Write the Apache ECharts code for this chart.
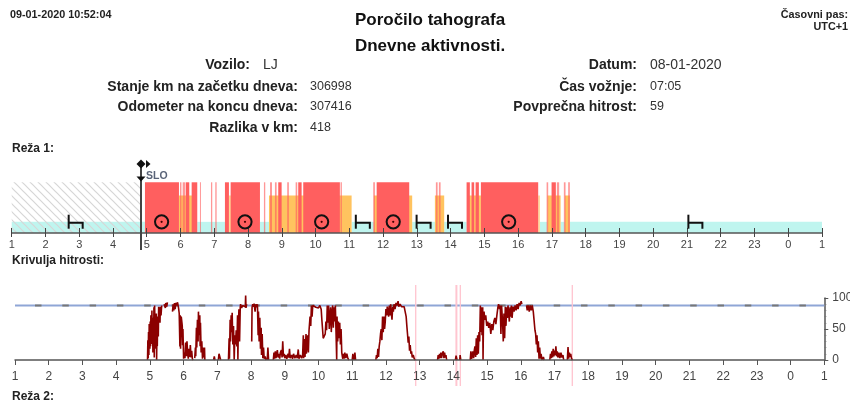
<!DOCTYPE html>
<html><head><meta charset="utf-8">
<style>html,body{margin:0;padding:0;background:#fff}#c{width:850px;height:403px}</style>
<script src="https://cdn.jsdelivr.net/npm/echarts@6/dist/echarts.min.js"></script>
</head><body><div id="c"></div>
<script>
// ---------- data (hours on a 1..25 axis; 25 = 01:00 next day) ----------
const hourLabels = ["1","2","3","4","5","6","7","8","9","10","11","12","13","14","15","16","17","18","19","20","21","22","23","0","1"];
const restSpans = [[1,4.947],[6.496,7.316],[8.353,8.62],[11.068,11.728],[12.862,13.534],[13.81,14.473],[16.645,16.868],[17.257,17.384],[17.532,25]];
const workSpans = [[5.954,6.34],[7.434,7.495],[8.62,11.068],[11.728,12.862],[13.534,13.81],[14.51,14.897],[16.594,16.645],[16.868,17.257],[17.384,17.532]];
const driveSpans = [[4.947,5.954],[5.984,6.028],[6.064,6.132],[6.153,6.259],[6.33,6.496],[6.576,6.605],[6.902,6.94],[7.03,7.07],[7.316,7.434],[7.485,8.353],[8.471,8.51],[8.65,8.71],[8.797,8.847],[8.895,8.995],[9.16,9.21],[9.41,9.457],[9.487,9.587],[9.635,10.72],[10.74,10.78],[11.708,11.758],[11.81,12.774],[13.564,13.615],[13.653,13.703],[14.473,14.57],[14.62,14.698],[14.74,14.837],[14.897,16.594],[16.843,16.89],[16.99,17.117],[17.147,17.215],[17.354,17.404],[17.482,17.532]];
const unknownSpan = [[1,4.83]];
const levels = {rest:11, work:37, drive:50, unknown:50};
const wheelHours = [5.44,7.91,10.18,12.3,15.72];
const bedHours = [2.895,11.4,13.2,14.13,21.25];
const borderHour = 4.83;
const borderLabel = "SLO";
const speedLimit = 88;
const pinkHours = [12.883,14.08,14.1,14.206,17.527];
const speedSegments = [
 [[4.93,0],[4.94,32],[4.95,3],[4.96,45],[4.97,8],[4.98,58],[5.0,18],[5.01,62],[5.02,22],[5.03,72],[5.05,26],[5.06,80],[5.07,35],[5.08,55],[5.09,12],[5.1,68],[5.11,28],[5.12,85],[5.13,4],[5.14,88],[5.16,35],[5.17,62],[5.18,18],[5.19,75],[5.2,0],[5.21,48],[5.22,22],[5.23,70],[5.25,38],[5.26,86],[5.27,62],[5.28,78],[5.3,60],[5.31,86],[5.33,72],[5.35,88]],
 [[5.42,90],[5.44,93],[5.46,84],[5.47,92],[5.5,86],[5.52,93]],
 [[5.67,78],[5.69,90],[5.71,80],[5.73,92],[5.75,82],[5.77,92],[5.79,88],[5.82,93],[5.85,84],[5.87,75],[5.88,72],[5.89,22],[5.9,72],[5.91,18],[5.93,70],[5.94,65],[5.96,55],[5.97,24],[5.98,50],[6.0,2],[6.02,12],[6.04,3],[6.06,28],[6.08,6],[6.1,30],[6.12,10],[6.14,2],[6.16,18],[6.18,5],[6.2,24],[6.22,4],[6.24,15],[6.26,2],[6.28,0]],
 [[6.33,3],[6.35,20],[6.36,6],[6.38,52],[6.39,20],[6.41,65],[6.43,30],[6.44,78],[6.46,40],[6.48,72],[6.49,22],[6.5,60],[6.52,12],[6.54,30],[6.56,2],[6.58,20],[6.6,4],[6.62,20],[6.63,0]],
 [[6.89,0],[6.91,6],[6.93,0]],
 [[7.03,0],[7.05,10],[7.08,10],[7.1,0]],
 [[7.33,0],[7.35,35],[7.36,2],[7.38,65],[7.39,30],[7.41,72],[7.43,45],[7.44,76],[7.46,25],[7.48,55],[7.5,0],[7.52,40],[7.54,25],[7.56,48],[7.58,22],[7.6,72],[7.61,0],[7.62,42],[7.64,82],[7.66,30],[7.68,85],[7.69,90],[7.72,84],[7.75,88],[7.78,85],[7.8,90],[7.83,86],[7.84,104],[7.85,84],[7.87,90]],
 [[8.02,30],[8.03,85],[8.05,90],[8.07,86],[8.09,91],[8.12,78],[8.14,90],[8.17,85],[8.19,90],[8.21,40],[8.22,78],[8.24,30],[8.26,68],[8.28,18],[8.3,52],[8.31,8],[8.33,42],[8.35,3],[8.37,20],[8.39,2],[8.42,6],[8.44,0]],
 [[8.48,0],[8.5,20],[8.52,0]],
 [[8.66,0],[8.68,12],[8.7,2],[8.72,14],[8.74,3],[8.76,10],[8.78,16],[8.8,4],[8.83,10],[8.85,2],[8.87,12],[8.9,16],[8.92,4],[8.94,30],[8.96,6],[8.98,10],[9.0,3],[9.03,8],[9.06,2],[9.1,10],[9.12,4],[9.14,18],[9.16,3],[9.2,8],[9.23,2],[9.26,10],[9.3,3],[9.34,8],[9.37,3],[9.4,17],[9.42,2],[9.46,8],[9.5,3],[9.53,8],[9.55,40],[9.56,3],[9.58,34],[9.6,5],[9.63,42],[9.64,10],[9.66,24],[9.68,40],[9.7,12],[9.72,48],[9.75,70],[9.77,55],[9.79,88],[9.81,70],[9.83,88],[9.86,85],[9.88,91],[9.92,85],[9.96,88],[10.0,84],[10.04,88],[10.08,82],[10.1,65],[10.12,50],[10.14,35],[10.17,35],[10.2,42],[10.22,62],[10.24,48],[10.26,88],[10.28,60],[10.3,88],[10.32,50],[10.34,70],[10.36,85],[10.38,45],[10.4,75],[10.42,88],[10.44,52],[10.46,85],[10.48,62],[10.5,88],[10.52,45],[10.54,0],[10.55,70],[10.57,30],[10.59,62],[10.61,35],[10.63,60],[10.65,25],[10.67,50],[10.69,12],[10.72,2],[10.74,10],[10.76,2],[10.78,12],[10.81,3],[10.84,10],[10.87,3],[10.9,0]],
 [[11.0,0],[11.02,10],[11.04,0]],
 [[11.06,0],[11.08,12],[11.1,0]],
 [[11.7,0],[11.72,8],[11.74,3],[11.76,18],[11.78,5],[11.8,22],[11.82,30],[11.84,42],[11.86,50],[11.88,32],[11.9,70],[11.92,45],[11.94,70],[11.96,50],[11.98,62],[12.0,82],[12.02,72],[12.04,86],[12.06,78],[12.08,70],[12.1,88],[12.12,72],[12.14,90],[12.16,75],[12.18,65],[12.2,86],[12.22,78],[12.24,90],[12.27,82],[12.3,92],[12.33,88],[12.36,95],[12.38,86],[12.42,90],[12.46,86],[12.5,88],[12.54,86],[12.58,84],[12.6,70],[12.62,55],[12.64,42],[12.66,28],[12.68,38],[12.7,15],[12.72,24],[12.74,10],[12.76,14],[12.78,4],[12.81,8],[12.84,2],[12.87,0]],
 [[13.53,0],[13.55,8],[13.57,2],[13.59,10],[13.61,3],[13.63,12],[13.65,3],[13.67,10],[13.7,14],[13.72,3],[13.74,12],[13.76,4],[13.78,8],[13.8,0]],
 [[14.06,0],[14.08,7],[14.11,0]],
 [[14.19,0],[14.2,8],[14.22,0]],
 [[14.5,0],[14.52,14],[14.54,2],[14.56,8],[14.58,14],[14.6,3],[14.62,15],[14.64,22],[14.66,5],[14.68,35],[14.7,8],[14.72,40],[14.74,10],[14.76,45],[14.78,30],[14.8,88],[14.81,45],[14.83,85],[14.85,40],[14.87,85],[14.88,0],[14.89,50],[14.91,78],[14.93,65],[14.96,72],[14.99,55],[15.02,62],[15.05,52],[15.08,60],[15.11,42],[15.14,58],[15.17,48],[15.2,62],[15.23,68],[15.26,58],[15.29,72],[15.32,85],[15.34,90],[15.37,82],[15.39,88],[15.41,42],[15.43,88],[15.46,60],[15.48,30],[15.5,75],[15.52,35],[15.54,86],[15.56,55],[15.58,85],[15.6,68],[15.62,88],[15.64,75],[15.66,62],[15.68,85],[15.7,70],[15.72,88],[15.74,68],[15.77,86],[15.8,78],[15.83,88],[15.86,80],[15.89,90],[15.92,82],[15.95,92],[15.98,88],[16.01,95],[16.03,90]],
 [[16.17,88],[16.19,80],[16.22,88],[16.25,78],[16.28,88],[16.31,80],[16.34,88],[16.37,78],[16.4,75],[16.42,48],[16.44,42],[16.46,25],[16.48,40],[16.5,12],[16.52,30],[16.54,2],[16.56,20],[16.58,2],[16.6,10],[16.63,0]],
 [[16.65,0],[16.67,5],[16.69,0]],
 [[16.86,0],[16.88,10],[16.9,3],[16.92,14],[16.94,4],[16.96,18],[16.98,6],[17.0,15],[17.02,8],[17.04,22],[17.06,6],[17.08,14],[17.1,4],[17.13,12],[17.16,3],[17.19,12],[17.22,4],[17.25,8],[17.27,0]],
 [[17.38,0],[17.4,21],[17.42,2],[17.44,12],[17.46,5],[17.48,10],[17.5,3],[17.53,0]]
];
// ---------- text ----------
const titleLines = ["Poročilo tahografa","Dnevne aktivnosti."];
const headerLeft = "09-01-2020 10:52:04";
const headerRight = ["Časovni pas:","UTC+1"];
const infoLeft = [["Vozilo:","LJ"],["Stanje km na začetku dneva:","306998"],["Odometer na koncu dneva:","307416"],["Razlika v km:","418"]];
const infoRight = [["Datum:","08-01-2020"],["Čas vožnje:","07:05"],["Povprečna hitrost:","59"]];
const sections = ["Reža 1:","Krivulja hitrosti:","Reža 2:"];

// ---------- build ----------
const FF = '"Liberation Sans",Arial,sans-serif';
const colors = {rest:'#bff5ef', work:'#ffc35f', drive:'#ff5f5f'};
const speedData = [];
speedSegments.forEach(seg => { seg.forEach(p => speedData.push(p)); speedData.push([seg[seg.length-1][0], null]); });

const cv = document.createElement('canvas'); cv.width = 8; cv.height = 8;
const g = cv.getContext('2d'); g.strokeStyle = '#d6d6d6'; g.lineWidth = 1.2;
g.beginPath(); g.moveTo(-1,-1); g.lineTo(9,9); g.moveTo(-1,7); g.lineTo(1,9); g.moveTo(7,-1); g.lineTo(9,1); g.stroke();

const rows = [];
[['rest',restSpans],['work',workSpans],['drive',driveSpans]].forEach(([k,arr]) => arr.forEach(s => rows.push([s[0],s[1],levels[k],k])));

function spanItem(params, api){
  const a = api.coord([api.value(0), 0]), b = api.coord([api.value(1), api.value(2)]);
  const w = Math.max(b[0]-a[0],1);
  return {type:'rect', shape:{x:a[0], y:b[1], width:w, height:a[1]-b[1]},
    style:{fill:colors[rows[params.dataIndex][3]], opacity:w<2.5?0.65:1}};
}
function text(t,x,y,font,fill,align){
  return {type:'text', x, y, silent:true, style:{text:t, font, fill, align:align||'left', verticalAlign:'middle'}};
}
const graphic = [];
graphic.push(text(headerLeft,10,15,'bold 10.8px '+FF,'#222'));
graphic.push(text(headerRight[0],848,15,'bold 10.8px '+FF,'#222','right'));
graphic.push(text(headerRight[1],848,27,'bold 10.8px '+FF,'#222','right'));
graphic.push(text(titleLines[0],430,20,'bold 17px '+FF,'#111','center'));
graphic.push(text(titleLines[1],430,46,'bold 17px '+FF,'#111','center'));
const leftRight = [250,298,298,298], leftY = [65,87,107,128], leftVal = [263,310,310,310];
infoLeft.forEach((r,i)=>{
  graphic.push(text(r[0],leftRight[i],leftY[i],'bold 14px '+FF,'#222','right'));
  graphic.push(text(r[1],leftVal[i],leftY[i],(i===0?'14px ':'12.5px ')+FF,'#333'));
});
const rightY=[65,87,107];
infoRight.forEach((r,i)=>{
  graphic.push(text(r[0],637,rightY[i],'bold 14px '+FF,'#222','right'));
  graphic.push(text(r[1],650,rightY[i],(i===0?'14px ':'12.5px ')+FF,'#333'));
});
const secY=[149,261,397];
sections.forEach((s,i)=>graphic.push(text(s,12,secY[i],'bold 12px '+FF,'#222')));

const baseAxis = {type:'value', min:1, max:25, interval:1, splitLine:{show:false}, minorTick:{show:false}};
const option = {
  animation:false, backgroundColor:'#fff', graphic,
  grid:[{left:11.7,right:28,top:182.3,height:50.7,outerBoundsMode:'none'},{left:15,right:25.7,top:298,height:62,outerBoundsMode:'none'}],
  xAxis:[
    {...baseAxis, gridIndex:0, position:'bottom', z:10,
      axisLine:{lineStyle:{color:'#555',width:1.5}},
      axisTick:{length:4,lineStyle:{color:'#444',width:1}},
      axisLabel:{margin:6,fontFamily:FF,fontSize:11,color:'#444',formatter:v=>hourLabels[v-1]}},
    {...baseAxis, gridIndex:0, position:'bottom', z:10, axisLine:{show:false},
      axisTick:{inside:true,length:5,lineStyle:{color:'#444',width:1}}, axisLabel:{show:false}},
    {...baseAxis, gridIndex:1, position:'bottom', z:10,
      axisLine:{lineStyle:{color:'#555',width:1.5}},
      axisTick:{length:5,lineStyle:{color:'#555',width:1}},
      axisLabel:{margin:11,fontFamily:FF,fontSize:12,color:'#444',formatter:v=>hourLabels[v-1]}}
  ],
  yAxis:[
    {type:'value',gridIndex:0,min:0,max:50,show:false},
    {type:'value',gridIndex:1,min:0,max:100,interval:50,position:'right',splitLine:{show:false},
      axisLine:{show:true,lineStyle:{color:'#555',width:1.5}},
      axisTick:{show:true,length:4,lineStyle:{color:'#555',width:1}},
      minorTick:{show:true,splitNumber:5,length:2,lineStyle:{color:'#777',width:1}},
      axisLabel:{margin:8,fontFamily:FF,fontSize:12,color:'#444'}}
  ],
  series:[
    {type:'custom',xAxisIndex:0,yAxisIndex:0,z:2,clip:false,data:rows.map(r=>r.slice(0,3)),encode:{x:[0,1],y:2},renderItem:spanItem},
    {type:'custom',xAxisIndex:0,yAxisIndex:0,z:3,clip:false,data:unknownSpan.map(s=>[s[0],s[1],levels.unknown]),encode:{x:[0,1],y:2},
      renderItem:(p,api)=>{const a=api.coord([api.value(0),0]),b=api.coord([api.value(1),api.value(2)]);
        return {type:'rect',shape:{x:a[0],y:b[1],width:b[0]-a[0],height:a[1]-b[1]},style:{fill:{image:cv,repeat:'repeat'}}};}},
    {type:'custom',xAxisIndex:0,yAxisIndex:0,z:12,clip:false,data:wheelHours.map(h=>[h,levels.rest]),encode:{x:0,y:1},
      renderItem:(p,api)=>{const c=api.coord([api.value(0),api.value(1)]);
        return {type:'group',children:[
          {type:'circle',shape:{cx:c[0],cy:c[1],r:6.6},style:{fill:'none',stroke:'#111',lineWidth:2}},
          {type:'circle',shape:{cx:c[0],cy:c[1],r:1.1},style:{fill:'#400',stroke:null}}]};}},
    {type:'custom',xAxisIndex:0,yAxisIndex:0,z:12,clip:false,data:bedHours.map(h=>[h,0]),encode:{x:0,y:1},
      renderItem:(p,api)=>{const c=api.coord([api.value(0),api.value(1)]);const x=c[0]-7,b=c[1]-4.3;
        return {type:'group',children:[
          {type:'polyline',shape:{points:[[x,b-14],[x,b]]},style:{stroke:'#111',lineWidth:2,fill:'none'}},
          {type:'polyline',shape:{points:[[x,b-6],[x+14,b-6],[x+14,b]]},style:{stroke:'#111',lineWidth:2,fill:'none'}}]};}},
    {type:'custom',xAxisIndex:0,yAxisIndex:0,z:13,clip:false,data:[[borderHour,0]],encode:{x:0,y:1},
      renderItem:(p,api)=>{const c=api.coord([api.value(0),api.value(1)]);const x=c[0],b=c[1];
        return {type:'group',children:[
          {type:'line',shape:{x1:x,y1:b-68,x2:x,y2:b+17},style:{stroke:'#444',lineWidth:2}},
          {type:'polygon',shape:{points:[[x,b-73.5],[x+4.5,b-69],[x,b-64.5],[x-4.5,b-69]]},style:{fill:'#111'}},
          {type:'polygon',shape:{points:[[x+5,b-73],[x+9.5,b-69],[x+5,b-65]]},style:{fill:'#111'}},
          {type:'polygon',shape:{points:[[x-4.5,b-56.5],[x+4.5,b-56.5],[x,b-51.5]]},style:{fill:'#111'}},
          {type:'text',style:{text:borderLabel,x:x+5,y:b-57,font:'bold 10.5px '+FF,fill:'#5a6478',verticalAlign:'middle'}}]};}},
    {type:'line',xAxisIndex:2,yAxisIndex:1,z:3,symbol:'none',silent:true,data:[[1,speedLimit],[25,speedLimit]],lineStyle:{color:'#8fa6d6',width:2}},
    {type:'line',xAxisIndex:2,yAxisIndex:1,z:4,symbol:'none',silent:true,data:[[1,speedLimit],[25,speedLimit]],lineStyle:{color:'#777',width:2,type:[6.5,20.8],dashOffset:7.3}},
    {type:'custom',xAxisIndex:2,yAxisIndex:1,z:5,clip:false,data:pinkHours.map(h=>[h,0]),encode:{x:0,y:1},
      renderItem:(p,api)=>{const c=api.coord([api.value(0),api.value(1)]);
        return {type:'line',shape:{x1:c[0],y1:c[1]-75,x2:c[0],y2:c[1]+26},style:{stroke:'#ffc4cf',lineWidth:1.3}};}},
    {type:'line',xAxisIndex:2,yAxisIndex:1,z:6,symbol:'none',showSymbol:false,clip:false,connectNulls:false,silent:true,
      data:speedData,lineStyle:{color:'#8b0000',width:1.6,join:'bevel'}}
  ]
};
echarts.init(document.getElementById('c'),null,{renderer:'canvas'}).setOption(option);
</script></body></html>
